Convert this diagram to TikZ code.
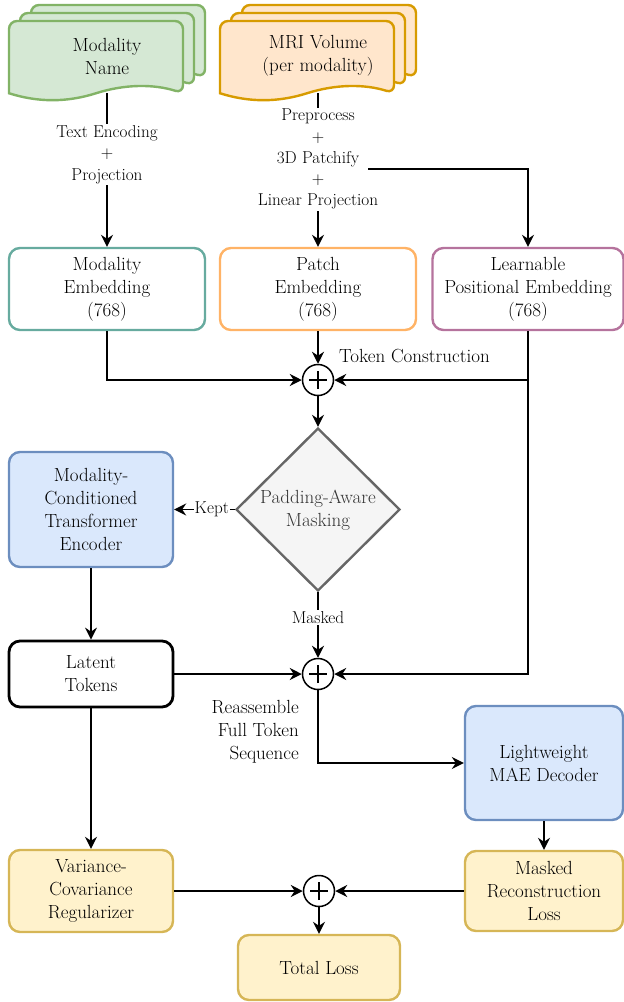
\documentclass[tikz,border=0pt]{standalone}
\usepackage{fontspec}
\usetikzlibrary{shapes.geometric,arrows.meta}
\definecolor{grfill}{HTML}{D5E8D4}
\definecolor{grdraw}{HTML}{82B366}
\definecolor{orfill}{HTML}{FFE6CC}
\definecolor{ordraw}{HTML}{D79B00}
\definecolor{cteal}{HTML}{67AB9F}
\definecolor{corange}{HTML}{FFB366}
\definecolor{cpurple}{HTML}{B5739D}
\definecolor{cbfill}{HTML}{DAE8FC}
\definecolor{cbdraw}{HTML}{6C8EBF}
\definecolor{cyfill}{HTML}{FFF2CC}
\definecolor{cydraw}{HTML}{D6B656}
\definecolor{cgfill}{HTML}{F5F5F5}
\definecolor{cgdraw}{HTML}{666666}
\definecolor{cgtext}{HTML}{333333}
\newcommand{\boxfont}{\fontsize{19}{23}\selectfont}
\newcommand{\lblfont}{\fontsize{17.2}{21.2}\selectfont}
\newcommand{\mydoc}[4]{%
  \draw[line width=2.4pt, fill=#3, draw=#4, rounded corners=8pt]
    (#1,#2+72.25) -- (#1,#2) -- (#1+174,#2) -- (#1+174,#2+72.25) [sharp corners]
    .. controls (#1+145,#2+63) and (#1+116,#2+63) .. (#1+87,#2+72.25)
    .. controls (#1+58,#2+81.5) and (#1+29,#2+81.5) .. (#1,#2+72.25) -- cycle;}
\tikzset{
  box/.style={draw, rounded corners=11pt, line width=2.4pt, align=center, font=\boxfont, inner sep=0pt},
  lbl/.style={fill=white, font=\lblfont, align=center, inner sep=1.5pt},
  arr/.style={line width=1.5pt, -{Stealth[length=12pt,width=12pt,inset=4pt]}},
  sumc/.style={circle, draw, line width=1.5pt, minimum size=31pt, inner sep=0pt, fill=white,
    path picture={
      \draw[line width=1.4pt] ([xshift=-9pt]path picture bounding box.center) -- ([xshift=9pt]path picture bounding box.center);
      \draw[line width=1.4pt] ([yshift=-9pt]path picture bounding box.center) -- ([yshift=9pt]path picture bounding box.center);
    }},
}
\begin{document}
\begin{tikzpicture}[x=1pt,y=-1pt]
\useasboundingbox (0,0) rectangle (624,1002);
% document stacks
\mydoc{31}{5}{grfill}{grdraw}
\mydoc{20}{13}{grfill}{grdraw}
\mydoc{9}{21}{grfill}{grdraw}
\mydoc{242}{5}{orfill}{ordraw}
\mydoc{231}{13}{orfill}{ordraw}
\mydoc{220}{21}{orfill}{ordraw}
\node[align=center, font=\boxfont, minimum width=196pt, minimum height=74pt, inner sep=0pt] (modname) at (107,56) {Modality\\Name};
\node[align=center, font=\boxfont, minimum width=196pt, minimum height=74pt, inner sep=0pt] (mri) at (318,56) {MRI Volume\\(per modality)};
% embeddings
\node[box, draw=cteal, minimum width=196pt, minimum height=82pt] (memb) at (107,289) {Modality\\Embedding\\(768)};
\node[box, draw=corange, minimum width=196pt, minimum height=82pt] (pemb) at (318,289) {Patch\\Embedding\\(768)};
\node[box, draw=cpurple, minimum width=191pt, minimum height=82pt] (lpe) at (528,289) {Learnable\\Positional Embedding\\(768)};
\node[sumc] (c1) at (318,380) {};
\node[anchor=west, font=\boxfont, inner sep=0pt] (tokc) at (339,356) {Token Construction};
% masking
\node[diamond, draw=cgdraw, fill=cgfill, line width=2.4pt, minimum width=164pt, minimum height=163pt, inner sep=0pt] (mask) at (318,509.5) {};
\node[align=center, font=\boxfont, text=cgtext, inner sep=0pt] (maskt) at (318,510) {Padding-Aware\\Masking};
\node[box, fill=cbfill, draw=cbdraw, minimum width=164pt, minimum height=115pt] (enc) at (91,509.5) {Modality-\\Conditioned\\Transformer\\Encoder};
\node[box, draw=black, line width=2.8pt, minimum width=164pt, minimum height=66pt] (lat) at (91,674) {Latent\\Tokens};
\node[sumc] (c2) at (318,674) {};
\node[anchor=east, align=right, font=\boxfont, inner sep=0pt] (reas) at (299,732) {Reassemble\\Full Token\\Sequence};
\node[box, fill=cbfill, draw=cbdraw, minimum width=158pt, minimum height=114pt] (dec) at (544,763) {Lightweight\\MAE Decoder};
% losses
\node[box, fill=cyfill, draw=cydraw, minimum width=164pt, minimum height=82pt] (vcr) at (91,891) {Variance-\\Covariance\\Regularizer};
\node[box, fill=cyfill, draw=cydraw, minimum width=158pt, minimum height=80pt] (mrl) at (544,891) {Masked\\Reconstruction\\Loss};
\node[sumc] (c3) at (319,891) {};
\node[box, fill=cyfill, draw=cydraw, minimum width=162pt, minimum height=65pt] (total) at (319,967.5) {Total Loss};
% connectors
\draw[arr] (modname.south) -- node[lbl, pos=0.4] (lbltxt) {Text Encoding\\+\\Projection} (memb.north);
\draw[arr] (mri.south) -- node[lbl, pos=0.43] (lblpre) {Preprocess\\+\\3D Patchify\\+\\Linear Projection} (pemb.north);
\coordinate (pbr) at (368,169);
\draw[arr] (pbr) -| (lpe.north);
\draw[arr] (memb.south) |- (c1.west);
\draw[arr] (pemb.south) -- (c1.north);
\draw[arr] (lpe.south) |- (c1.east);
\draw[arr] (lpe.south) |- (c2.east);
\draw[arr] (c1.south) -- (mask.north);
\draw[arr] (mask.west) -- node[lbl, pos=0.38, inner sep=1pt] (lblkept) {Kept} (enc.east);
\draw[arr] (mask.south) -- node[lbl, pos=0.39] (lblmasked) {Masked} (c2.north);
\draw[arr] (enc.south) -- (lat.north);
\draw[arr] (lat.east) -- (c2.west);
\draw[arr] (c2.south) |- (dec.west);
\draw[arr] (dec.south) -- (mrl.north);
\draw[arr] (lat.south) -- (vcr.north);
\draw[arr] (vcr.east) -- (c3.west);
\draw[arr] (mrl.west) -- (c3.east);
\draw[arr] (c3.south) -- (total.north);
\end{tikzpicture}
\end{document}
